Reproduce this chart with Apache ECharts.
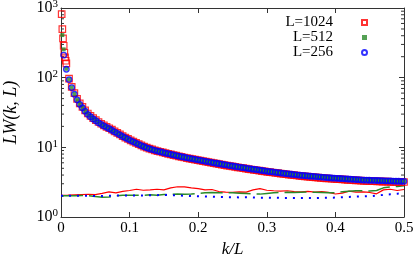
<!DOCTYPE html>
<html><head><meta charset="utf-8">
<script src="https://cdn.jsdelivr.net/npm/echarts@6/dist/echarts.min.js"></script>
<style>html,body{margin:0;padding:0;background:#fff}#c{width:415px;height:255px}</style>
</head><body><div id="c"></div>
<script>
const seriesNames = ['L=1024', 'L=512', 'L=256'];
const xTickLabels = ['0', '0.1', '0.2', '0.3', '0.4', '0.5'];
const yMinorTicks = [2,3,4,5,6,7,8,9,20,30,40,50,60,70,80,90,200,300,400,500,600,700,800,900];

// LW(k,L) markers; L=256 at k/L = k/256, k=1..128
const lw256 = [210,132,94,72,58,48,41.5,37,33,29.8,
27.5,25.6,24.1,22.6,21.4,20.3,19.4,18.5,17.6,16.7,
15.9,15.1,14.3,13.7,13.1,12.5,12.0,11.5,11.05,10.6,
10.2,9.85,9.55,9.3,9.05,8.85,8.65,8.45,8.27,8.1,
7.93,7.77,7.62,7.47,7.33,7.2,7.07,6.95,6.83,6.72,
6.61,6.5,6.4,6.3,6.2,6.1,6.0,5.91,5.82,5.73,
5.64,5.56,5.48,5.4,5.32,5.24,5.17,5.1,5.03,4.96,
4.89,4.83,4.77,4.71,4.65,4.59,4.53,4.48,4.43,4.38,
4.33,4.28,4.23,4.19,4.15,4.11,4.07,4.03,3.99,3.95,
3.92,3.89,3.86,3.83,3.8,3.77,3.74,3.71,3.68,3.66,
3.63,3.61,3.59,3.57,3.55,3.53,3.51,3.49,3.47,3.45,
3.43,3.41,3.39,3.38,3.37,3.36,3.35,3.34,3.33,3.32,
3.31,3.3,3.29,3.28,3.27,3.26,3.25,3.25];
// L=512: first point at k/L=1/512, then at k/256, k=1..128
const lw512Head = [409];
const lw512 = [255,134,95,72.5,58.5,48.3,41.8,37.2,33.2,30,
27.7,25.8,24.2,22.7,21.5,20.4,19.5,18.6,17.7,16.8,
16,15.2,14.4,13.75,13.15,12.55,12.05,11.55,11.1,10.65,
10.25,9.9,9.6,9.33,9.08,8.87,8.67,8.47,8.29,8.12,
7.95,7.79,7.64,7.49,7.35,7.22,7.09,6.97,6.85,6.74,
6.63,6.52,6.42,6.32,6.22,6.12,6.02,5.93,5.84,5.75,
5.66,5.57,5.49,5.41,5.33,5.25,5.18,5.11,5.04,4.97,
4.9,4.84,4.78,4.72,4.66,4.6,4.54,4.49,4.44,4.39,
4.34,4.29,4.24,4.2,4.16,4.12,4.08,4.04,4,3.96,
3.93,3.9,3.87,3.84,3.81,3.78,3.75,3.72,3.69,3.67,
3.64,3.62,3.6,3.58,3.56,3.54,3.52,3.5,3.48,3.46,
3.44,3.42,3.4,3.39,3.38,3.37,3.36,3.35,3.34,3.33,
3.32,3.31,3.3,3.29,3.28,3.27,3.26,3.26];
// L=1024: k=1..8 at k/1024, then k=3..128 at k/256
const lw1024Head = [818,498,366,287,228,195,175,160];
const lw1024 = [97,74,60,49.5,42.7,38,33.9,30.6,
28.2,26.2,24.6,23.1,21.8,20.7,19.7,18.8,17.9,17.0,
16.1,15.3,14.5,13.8,13.2,12.6,12.05,11.55,11.1,10.65,
10.25,9.9,9.58,9.32,9.07,8.85,8.64,8.44,8.25,8.07,
7.9,7.74,7.58,7.43,7.29,7.15,7.02,6.9,6.78,6.66,
6.55,6.44,6.33,6.23,6.13,6.03,5.93,5.84,5.75,5.66,
5.57,5.48,5.4,5.32,5.24,5.16,5.09,5.02,4.95,4.88,
4.81,4.75,4.69,4.63,4.57,4.51,4.45,4.4,4.35,4.3,
4.25,4.2,4.15,4.11,4.07,4.02,3.98,3.94,3.9,3.86,
3.83,3.8,3.77,3.74,3.71,3.68,3.65,3.62,3.59,3.57,
3.54,3.52,3.5,3.48,3.46,3.44,3.42,3.4,3.38,3.36,
3.34,3.32,3.31,3.3,3.28,3.27,3.26,3.25,3.24,3.23,
3.22,3.21,3.2,3.19,3.18,3.17,3.16,3.18];

// lower curves, at k/L = 0, 0.01, ..., 0.5
const low1024 = [2.05,2.06,2.08,2.1,2.12,2.1,2.18,2.3,2.22,2.33,
2.4,2.5,2.42,2.45,2.5,2.45,2.62,2.72,2.7,2.62,
2.55,2.45,2.48,2.32,2.28,2.25,2.3,2.28,2.45,2.55,
2.42,2.38,2.35,2.38,2.32,2.3,2.33,2.28,2.32,2.26,
2.14,2.2,2.35,2.28,2.3,2.25,2.15,2.45,2.5,2.4,2.48];
const low512 = [2.02,2.02,2.02,2.03,2.02,1.97,1.92,1.93,2.02,2.05,
2.05,2.06,2.05,2.08,2.06,2.1,2.12,2.13,2.12,2.14,
2.18,2.22,2.24,2.22,2.24,2.23,2.2,2.17,2.14,2.13,
2.18,2.22,2.25,2.26,2.24,2.26,2.28,2.26,2.24,2.22,
2.22,2.3,2.35,2.38,2.38,2.36,2.4,2.62,2.7,2.75,2.8];
const low256 = [2.02,2.02,2.02,2.01,2.02,2.0,2.0,2.02,2.03,2.04,
2.04,2.03,2.04,2.05,2.06,2.07,2.05,2.04,2.02,2.0,
1.98,1.97,1.96,1.94,1.93,1.92,1.91,1.92,1.9,1.89,
1.9,1.89,1.88,1.88,1.87,1.87,1.88,1.87,1.88,1.89,
1.9,1.92,1.94,1.96,1.98,1.99,2.03,2.08,2.12,2.16,2.2];

const FONT = 'Liberation Serif';
const AX = '#333';
const RED = '#ff0000', GREEN = '#2a8a2a', BLUE = '#0000ff';

const d1024 = lw1024Head.map((v, i) => [(i + 1) / 1024, v])
  .concat(lw1024.map((v, i) => [(i + 3) / 256, v]));
const d512 = lw512Head.map((v, i) => [(i + 1) / 512, v])
  .concat(lw512.map((v, i) => [(i + 1) / 256, v]));
const d256 = lw256.map((v, i) => [(i + 1) / 256, v]);
const lowPts = arr => arr.map((v, i) => [i / 100, v]);

const chart = echarts.init(document.getElementById('c'), null, {renderer: 'canvas'});
chart.setOption({
  animation: false,
  backgroundColor: '#fff',
  grid: {left: 61, right: 11, top: 8, bottom: 38, containLabel: false, outerBoundsMode: 'none'},
  legend: {
    orient: 'vertical', right: 42, top: 10, align: 'right',
    itemWidth: 5, itemHeight: 5, itemGap: 0,
    data: seriesNames,
    textStyle: {fontFamily: FONT, fontSize: 15, color: '#000', width: 52, align: 'right',
      lineHeight: 15, padding: [0, 24, 0, 0]}
  },
  xAxis: [{
    type: 'value', min: 0, max: 0.5, interval: 0.1, position: 'bottom',
    name: 'k/L', nameLocation: 'middle', nameGap: 21,
    nameTextStyle: {fontFamily: FONT, fontStyle: 'italic', fontSize: 17, color: '#000'},
    axisLine: {show: true, onZero: false, lineStyle: {color: AX, width: 1}},
    axisTick: {show: true, inside: true, length: 5, lineStyle: {color: AX}},
    axisLabel: {fontFamily: FONT, fontSize: 15, color: '#000', margin: 4,
      formatter: v => xTickLabels[Math.round(v * 10)]},
    splitLine: {show: false}
  }, {
    type: 'value', min: 0, max: 0.5, interval: 0.1, position: 'top',
    axisLine: {show: true, onZero: false, lineStyle: {color: AX, width: 1}},
    axisTick: {show: true, inside: true, length: 5, lineStyle: {color: AX}},
    axisLabel: {show: false}, splitLine: {show: false}
  }],
  yAxis: [{
    type: 'log', logBase: 10, min: 1, max: 1000, position: 'left',
    name: 'LW(k, L)', nameLocation: 'middle', nameGap: 41, nameRotate: 90,
    nameTextStyle: {fontFamily: FONT, fontStyle: 'italic', fontSize: 18, color: '#000'},
    axisLine: {show: true, onZero: false, lineStyle: {color: AX, width: 1}},
    axisTick: {show: true, inside: true, length: 5, lineStyle: {color: AX}},
    axisLabel: {
      margin: 3, color: '#000',
      formatter: v => '{b|10}{s|' + Math.round(Math.log10(v)) + '}',
      rich: {
        b: {fontFamily: FONT, fontSize: 16, lineHeight: 18, color: '#000'},
        s: {fontFamily: FONT, fontSize: 11, lineHeight: 10, verticalAlign: 'top', color: '#000'}
      }
    },
    splitLine: {show: false}
  }, {
    type: 'log', logBase: 10, min: 1, max: 1000, position: 'right',
    axisLine: {show: true, onZero: false, lineStyle: {color: AX, width: 1}},
    axisTick: {show: true, inside: true, length: 5, lineStyle: {color: AX}},
    axisLabel: {show: false}, splitLine: {show: false}
  }],
  series: [
    {
      type: 'custom', name: 'minorTicks', silent: true, clip: false, z: 1,
      xAxisIndex: 0, yAxisIndex: 0,
      data: yMinorTicks.map(v => [0, v]),
      renderItem: (params, api) => {
        const v = api.value(1);
        const l = api.coord([0, v]);
        const r = api.coord([0.5, v]);
        return {type: 'group', children: [
          {type: 'line', shape: {x1: l[0], y1: l[1], x2: l[0] + 3, y2: l[1]}, style: {stroke: AX, lineWidth: 1}},
          {type: 'line', shape: {x1: r[0] - 3, y1: r[1], x2: r[0], y2: r[1]}, style: {stroke: AX, lineWidth: 1}}
        ]};
      }
    },
    {
      type: 'line', name: 'low1024', data: lowPts(low1024), showSymbol: false, symbol: 'none',
      lineStyle: {color: RED, width: 1.2}, z: 2, silent: true
    },
    {
      type: 'line', name: 'low512', data: lowPts(low512), showSymbol: false, symbol: 'none',
      lineStyle: {color: GREEN, width: 1.5, type: [22, 6]}, z: 2, silent: true
    },
    {
      type: 'line', name: 'low256', data: lowPts(low256), showSymbol: false, symbol: 'none',
      lineStyle: {color: BLUE, width: 2, type: [2, 6]}, z: 2, silent: true
    },
    {
      type: 'scatter', name: seriesNames[0], data: d1024, symbol: 'rect', symbolSize: 6.5, z: 3,
      itemStyle: {color: 'rgba(0,0,0,0)', borderColor: RED, borderWidth: 1.2}
    },
    {
      type: 'scatter', name: seriesNames[1], data: d512, symbol: 'rect', symbolSize: 4, z: 4,
      itemStyle: {color: GREEN}
    },
    {
      type: 'scatter', name: seriesNames[2], data: d256, symbol: 'circle', symbolSize: 5.5, z: 5,
      itemStyle: {color: 'rgba(0,0,0,0)', borderColor: BLUE, borderWidth: 1.3}
    }
  ]
});
</script>
</body></html>
